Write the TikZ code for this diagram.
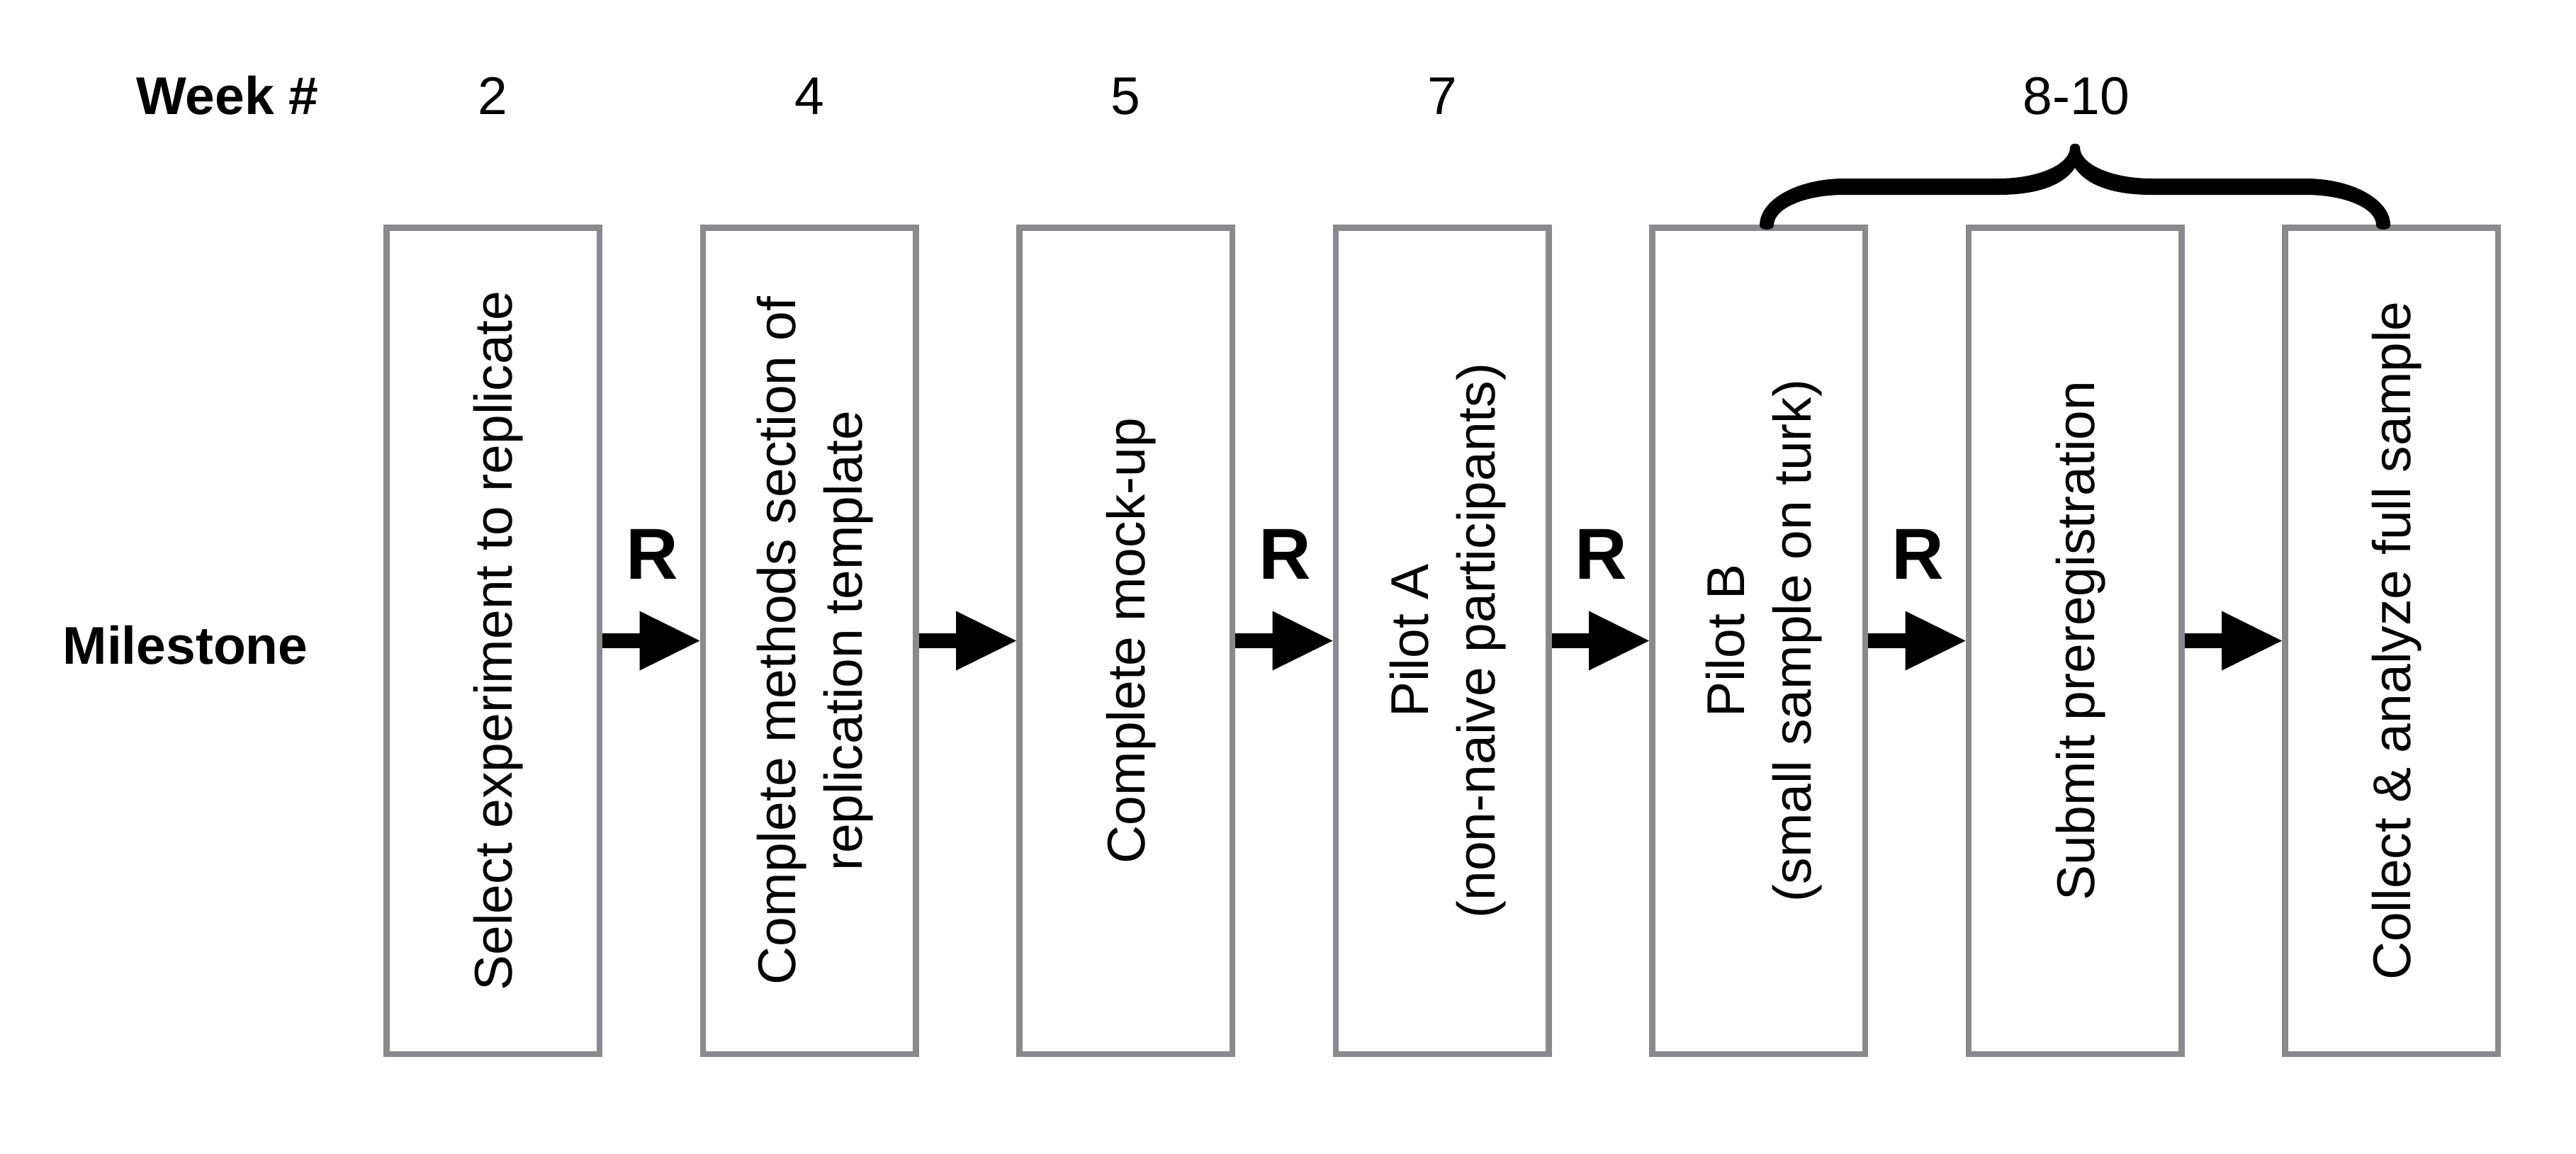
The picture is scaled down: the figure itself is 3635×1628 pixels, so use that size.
\documentclass[tikz,border=0pt]{standalone}
\usepackage{fontspec}
\setmainfont{Liberation Sans}
\usetikzlibrary{arrows.meta}
\definecolor{boxgray}{RGB}{137,137,142}
\begin{document}
\begin{tikzpicture}[x=0.2pt,y=-0.2pt,
  milebox/.style={draw=boxgray, line width=1.7pt, minimum width=60.1pt, minimum height=233.3pt, inner sep=0pt, fill=white},
  boxtext/.style={rotate=90, anchor=base, inner sep=0pt, font=\fontsize{15pt}{18pt}\selectfont},
  toptext/.style={anchor=base, inner sep=0pt, font=\fontsize{15pt}{18pt}\selectfont},
  headtext/.style={toptext, font=\fontsize{15pt}{18pt}\selectfont\bfseries},
  rlabel/.style={anchor=base, inner sep=0pt, font=\fontsize{20.4pt}{24pt}\selectfont\bfseries},
  flowarrow/.style={line width=4.2pt, -{Triangle[length=17pt, width=16.8pt, line width=0pt]}}
]
\useasboundingbox (0,0) rectangle (3635,1628);

% header row
\node[headtext] (week) at (321,161) {Week \#};
\node[toptext] (w2) at (695.5,161) {2};
\node[toptext] (w4) at (1142,161) {4};
\node[toptext] (w5) at (1588.5,161) {5};
\node[toptext] (w7) at (2035,161) {7};
\node[toptext] (w810) at (2930,161) {8-10};
\node[headtext] (milestone) at (261.5,937) {Milestone};

% boxes
\node[milebox] (b1) at (695.5,904.5) {};
\node[milebox] (b2) at (1142,904.5) {};
\node[milebox] (b3) at (1588.5,904.5) {};
\node[milebox] (b4) at (2035,904.5) {};
\node[milebox] (b5) at (2481.5,904.5) {};
\node[milebox] (b6) at (2928,904.5) {};
\node[milebox] (b7) at (3374.5,904.5) {};

% box texts
\node[boxtext] (t1) at (722.5,904.5) {Select experiment to replicate};
\node[boxtext] (t2a) at (1122,904.5) {Complete methods section of};
\node[boxtext] (t2b) at (1216,904.5) {replication template};
\node[boxtext] (t3) at (1615.5,904.5) {Complete mock-up};
\node[boxtext] (t4a) at (2015,904.5) {Pilot A};
\node[boxtext] (t4b) at (2109,904.5) {(non-naive participants)};
\node[boxtext] (t5a) at (2461.5,904.5) {Pilot B};
\node[boxtext] (t5b) at (2555.5,904.5) {(small sample on turk)};
\node[boxtext] (t6) at (2955,904.5) {Submit preregistration};
\node[boxtext] (t7) at (3401.5,904.5) {Collect \& analyze full sample};

% arrows
\draw[flowarrow] (b1.east) -- (b2.west);
\draw[flowarrow] (b2.east) -- (b3.west);
\draw[flowarrow] (b3.east) -- (b4.west);
\draw[flowarrow] (b4.east) -- (b5.west);
\draw[flowarrow] (b5.east) -- (b6.west);
\draw[flowarrow] (b6.east) -- (b7.west);

% R labels
\node[rlabel] (r1) at (920,817) {R};
\node[rlabel] (r3) at (1813,817) {R};
\node[rlabel] (r4) at (2259.5,817) {R};
\node[rlabel] (r5) at (2706,817) {R};

% brace
\fill (2483,318) .. controls (2483,282) and (2536,252) .. (2603,252)
  -- (2820,252) .. controls (2876,252) and (2921,232) .. (2921,208)
  .. controls (2922,201) and (2934,201) .. (2935,208)
  .. controls (2935,232) and (2980,252) .. (3036,252)
  -- (3253,252) .. controls (3320,252) and (3373,282) .. (3373,318)
  .. controls (3373,326) and (3353,326) .. (3353,318)
  .. controls (3353,294) and (3309,275) .. (3253,275)
  -- (3036,275) .. controls (2982,275) and (2945,262) .. (2928,237)
  .. controls (2911,262) and (2874,275) .. (2820,275)
  -- (2603,275) .. controls (2547,275) and (2503,294) .. (2503,318)
  .. controls (2503,326) and (2483,326) .. (2483,318) -- cycle;
\end{tikzpicture}
\end{document}
